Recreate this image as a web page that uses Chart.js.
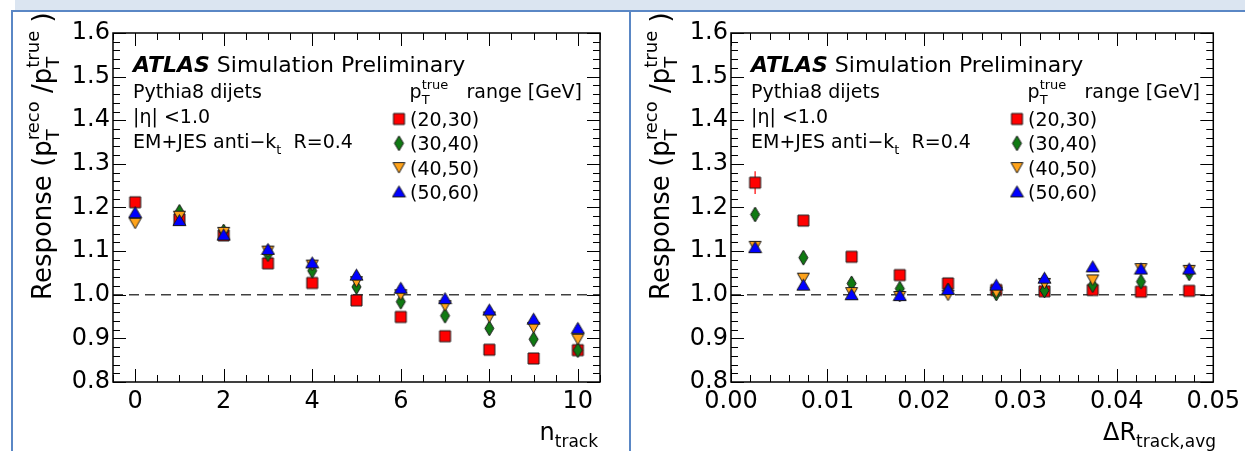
<!DOCTYPE html>
<html>
<head>
<meta charset="utf-8">
<script src="https://cdn.jsdelivr.net/npm/chart.js@4.4.0/dist/chart.umd.min.js"></script>
<style>
  body { margin: 0; width: 1245px; height: 451px; background: #fff; position: relative; overflow: hidden; }
  #band { position: absolute; left: 15px; top: 0; width: 1230px; height: 11px; background: #dbe5f1; }
  #frame { position: absolute; left: 11px; top: 10px; width: 1240px; height: 450px; border-top: 2px solid #5a87c5; border-left: 2px solid #5a87c5; }
  #sep { position: absolute; left: 629px; top: 10px; width: 2px; height: 441px; background: #5a87c5; }
  canvas { position: absolute; top: 13px; }
  #c1 { left: 14px; }
  #c2 { left: 632px; }
</style>
</head>
<body>
<div id="band"></div>
<div id="frame"></div>
<div id="sep"></div>
<canvas id="c1" width="615" height="438"></canvas>
<canvas id="c2" width="613" height="438"></canvas>
<script>
// 축 눈금 라벨
const respTicks = [0.8, 0.9, 1.0, 1.1, 1.2, 1.3, 1.4, 1.5, 1.6];
const nTrackTicks = [0, 2, 4, 6, 8, 10];
const dRTicks = [0, 0.01, 0.02, 0.03, 0.04, 0.05];
const ptBins = ['(20,30)', '(30,40)', '(40,50)', '(50,60)'];

// 왼쪽: n_track 별 응답
const nTrack = [0, 1, 2, 3, 4, 5, 6, 7, 8, 9, 10];
const nt2030 = [1.212, 1.173, 1.136, 1.072, 1.027, 0.987, 0.949, 0.905, 0.874, 0.854, 0.873];
const nt3040 = [1.177, 1.190, 1.145, 1.093, 1.055, 1.018, 0.984, 0.952, 0.923, 0.898, 0.873];
const nt4050 = [1.164, 1.180, 1.143, 1.100, 1.068, 1.030, 1.000, 0.975, 0.949, 0.925, 0.898];
const nt5060 = [1.188, 1.170, 1.137, 1.104, 1.073, 1.045, 1.015, 0.991, 0.965, 0.944, 0.923];

// 오른쪽: DeltaR_track,avg 별 응답
const dR = [0.0025, 0.0075, 0.0125, 0.0175, 0.0225, 0.0275, 0.0325, 0.0375, 0.0425, 0.0475];
const dr2030 = [1.257, 1.170, 1.087, 1.045, 1.026, 1.011, 1.008, 1.011, 1.007, 1.009];
const dr3040 = [1.184, 1.085, 1.026, 1.014, 1.010, 1.003, 1.010, 1.022, 1.030, 1.049];
const dr4050 = [1.111, 1.038, 1.005, 0.996, 0.999, 1.006, 1.026, 1.034, 1.060, 1.056];
const dr5060 = [1.108, 1.022, 1.000, 0.998, 1.012, 1.022, 1.038, 1.064, 1.059, 1.059];
const dr2030Err = [0.026, 0.004, 0.003, 0.003, 0.003, 0.003, 0.003, 0.003, 0.003, 0.003];

const FONT = '"DejaVu Sans"';

// ROOT 스타일 마커 (테두리 있는 도형)
function makeMarker(shape, fill) {
    const c = document.createElement('canvas');
    c.width = 15; c.height = 17;
    const g = c.getContext('2d');
    const cx = 7.5, cy = 8.5;
    g.fillStyle = fill;
    g.strokeStyle = '#1a1a1a';
    g.lineWidth = 1;
    g.beginPath();
    if (shape === 'square') {
        g.rect(cx - 5.5, cy - 5.5, 11, 11);
    } else if (shape === 'diamond') {
        g.moveTo(cx, cy - 7.5); g.lineTo(cx + 4.5, cy); g.lineTo(cx, cy + 7.5); g.lineTo(cx - 4.5, cy); g.closePath();
    } else if (shape === 'down') {
        g.moveTo(cx - 6, cy - 5); g.lineTo(cx + 6, cy - 5); g.lineTo(cx, cy + 5.5); g.closePath();
    } else {
        g.moveTo(cx, cy - 6); g.lineTo(cx + 6.5, cy + 5); g.lineTo(cx - 6.5, cy + 5); g.closePath();
    }
    g.fill();
    g.stroke();
    return c;
}

const styles = [
    { marker: makeMarker('square', '#ff0000'), color: '#ff0000' },
    { marker: makeMarker('diamond', '#0f7a12'), color: '#0f7a12' },
    { marker: makeMarker('down', '#ffa31a'), color: '#ffa31a' },
    { marker: makeMarker('up', '#0000ff'), color: '#0000ff' }
];

// 위/아래 첨자 텍스트 그리기
function drawRich(ctx, x, y, parts, size, draw) {
    let cx = x;
    parts.forEach(p => {
        if (typeof p === 'string') {
            ctx.font = size + 'px ' + FONT;
            if (draw) ctx.fillText(p, cx, y);
            cx += ctx.measureText(p).width;
        } else {
            const s = Math.round(size * 0.7);
            ctx.font = s + 'px ' + FONT;
            let w = 0;
            if (p.sub) {
                if (draw) ctx.fillText(p.sub, cx, y + size * 0.3);
                w = ctx.measureText(p.sub).width;
            }
            if (p.sup) {
                if (draw) ctx.fillText(p.sup, cx, y - size * 0.48);
                w = Math.max(w, ctx.measureText(p.sup).width);
            }
            cx += w;
        }
    });
    return cx - x;
}

function ticksBetween(min, max, step) {
    const out = [];
    for (let v = Math.ceil(min / step - 1e-6) * step; v <= max + 1e-9; v += step) out.push(v);
    return out;
}

function frameTicksPlugin(xMinorStep, yMinorStep) {
    return {
        id: 'frameTicks',
        beforeDatasetsDraw(chart) {
            const ctx = chart.ctx;
            const a = chart.chartArea;
            const xs = chart.scales.x, ys = chart.scales.y;
            ctx.save();
            // y=1 기준 점선
            ctx.strokeStyle = '#404040';
            ctx.lineWidth = 1.5;
            ctx.setLineDash([10, 6]);
            const y1 = ys.getPixelForValue(1.0);
            ctx.beginPath(); ctx.moveTo(a.left, y1); ctx.lineTo(a.right, y1); ctx.stroke();
            ctx.setLineDash([]);
            // 오차 막대
            chart.data.datasets.forEach(ds => {
                if (!ds.errors) return;
                ctx.strokeStyle = ds.errColor;
                ctx.lineWidth = 1.2;
                ds.data.forEach((pt, i) => {
                    const px = xs.getPixelForValue(pt.x);
                    ctx.beginPath();
                    ctx.moveTo(px, ys.getPixelForValue(pt.y - ds.errors[i]));
                    ctx.lineTo(px, ys.getPixelForValue(pt.y + ds.errors[i]));
                    ctx.stroke();
                });
            });
            ctx.restore();
        },
        afterDatasetsDraw(chart) {
            const ctx = chart.ctx;
            const a = chart.chartArea;
            const xs = chart.scales.x, ys = chart.scales.y;
            ctx.save();
            ctx.strokeStyle = '#000';
            ctx.lineWidth = 1.5;
            ctx.strokeRect(a.left, a.top, a.right - a.left, a.bottom - a.top);
            ctx.lineWidth = 1;
            const xMajor = xs.ticks.map(t => t.value);
            ticksBetween(xs.min, xs.max, xMinorStep).forEach(v => {
                const isMajor = xMajor.some(m => Math.abs(m - v) < xMinorStep / 10);
                const len = isMajor ? 13 : 7;
                const px = Math.round(xs.getPixelForValue(v)) + 0.5;
                ctx.beginPath();
                ctx.moveTo(px, a.bottom); ctx.lineTo(px, a.bottom - len);
                ctx.moveTo(px, a.top); ctx.lineTo(px, a.top + len);
                ctx.stroke();
            });
            const yMajor = ys.ticks.map(t => t.value);
            ticksBetween(ys.min, ys.max, yMinorStep).forEach(v => {
                const isMajor = yMajor.some(m => Math.abs(m - v) < yMinorStep / 10);
                const len = isMajor ? 13 : 7;
                const py = Math.round(ys.getPixelForValue(v)) + 0.5;
                ctx.beginPath();
                ctx.moveTo(a.left, py); ctx.lineTo(a.left + len, py);
                ctx.moveTo(a.right, py); ctx.lineTo(a.right - len, py);
                ctx.stroke();
            });
            ctx.restore();
        }
    };
}

function labelsPlugin(xTitle) {
    return {
        id: 'atlasLabels',
        afterDraw(chart) {
            const ctx = chart.ctx;
            ctx.save();
            ctx.fillStyle = '#000';
            ctx.textAlign = 'left';
            ctx.textBaseline = 'alphabetic';
            // ATLAS 라벨
            ctx.font = 'italic bold 22px ' + FONT;
            ctx.fillText('ATLAS', 119, 59);
            const w = ctx.measureText('ATLAS').width;
            ctx.font = '22px ' + FONT;
            ctx.fillText(' Simulation Preliminary', 119 + w, 59);
            drawRich(ctx, 119, 85, ['Pythia8 dijets'], 19, true);
            drawRich(ctx, 119, 110, ['|η| <1.0'], 19, true);
            drawRich(ctx, 119, 135, ['EM+JES anti\u2212k', { sub: 't' }, '  R=0.4'], 19, true);
            // 범례
            const header = ['p', { sub: 'T', sup: 'true' }, '   range [GeV]'];
            const hw = drawRich(ctx, 0, 0, header, 19, false);
            drawRich(ctx, 568 - hw, 85, header, 19, true);
            chart.data.datasets.slice().sort((p, q) => p.legendIndex - q.legendIndex).forEach((ds, i) => {
                const ry = 106 + i * 24.3;
                const img = ds.pointStyle;
                ctx.drawImage(img, 385 - img.width / 2, ry - img.height / 2);
                ctx.font = '19px ' + FONT;
                ctx.fillText(ds.label, 396, ry + 7);
            });
            // x축 제목
            const tw = drawRich(ctx, 0, 0, xTitle, 24, false);
            drawRich(ctx, 584 - tw, 427, xTitle, 24, true);
            // y축 제목 (회전)
            ctx.translate(37, 287);
            ctx.rotate(-Math.PI / 2);
            drawRich(ctx, 0, 0, ['Response (p', { sub: 'T', sup: 'reco' }, ' /p', { sub: 'T', sup: 'true' }, ' )'], 26, true);
            ctx.restore();
        }
    };
}

function makeDatasets(xs, series, errs) {
    return series.map((ys, k) => ({
        label: ptBins[k],
        legendIndex: k,
        order: 4 - k,
        data: xs.map((x, i) => ({ x: x, y: ys[i] })),
        pointStyle: styles[k].marker,
        pointRadius: 5,
        showLine: false,
        errors: errs[k] || null,
        errColor: styles[k].color
    }));
}

function responseChart(canvasId, xs, series, errs, xOpts, xTitle, rightPad, xMinorStep) {
    const ctx = document.getElementById(canvasId).getContext('2d');
    return new Chart(ctx, {
        type: 'scatter',
        data: { datasets: makeDatasets(xs, series, errs) },
        options: {
            responsive: false,
            animation: false,
            events: [],
            layout: { padding: { top: 20, right: rightPad, left: 0, bottom: 0 } },
            plugins: { legend: { display: false }, tooltip: { enabled: false } },
            scales: {
                x: {
                    type: 'linear',
                    min: xOpts.min,
                    max: xOpts.max,
                    grid: { display: false, drawTicks: false },
                    border: { display: false },
                    afterBuildTicks: s => { s.ticks = xOpts.ticks.map(v => ({ value: v })); },
                    afterFit: s => { s.height = 69; },
                    ticks: {
                        autoSkip: false, maxRotation: 0, padding: 5, color: '#000',
                        font: { family: 'DejaVu Sans', size: 24 },
                        callback: xOpts.fmt
                    }
                },
                y: {
                    min: 0.8,
                    max: 1.6,
                    grid: { display: false, drawTicks: false },
                    border: { display: false },
                    afterBuildTicks: s => { s.ticks = respTicks.map(v => ({ value: v })); },
                    afterFit: s => { s.width = 99; },
                    ticks: {
                        autoSkip: false, padding: 3, color: '#000',
                        font: { family: 'DejaVu Sans', size: 24 },
                        callback: v => v.toFixed(1)
                    }
                }
            }
        },
        plugins: [frameTicksPlugin(xMinorStep, 0.02), labelsPlugin(xTitle)]
    });
}

responseChart('c1', nTrack, [nt2030, nt3040, nt4050, nt5060], [],
    { min: -0.5, max: 10.5, ticks: nTrackTicks, fmt: v => String(v) },
    ['n', { sub: 'track' }], 29, 0.5);

responseChart('c2', dR, [dr2030, dr3040, dr4050, dr5060], [dr2030Err],
    { min: 0, max: 0.05, ticks: dRTicks, fmt: v => v.toFixed(2) },
    ['\u0394R', { sub: 'track,avg' }], 27, 0.002);
</script>
</body>
</html>
